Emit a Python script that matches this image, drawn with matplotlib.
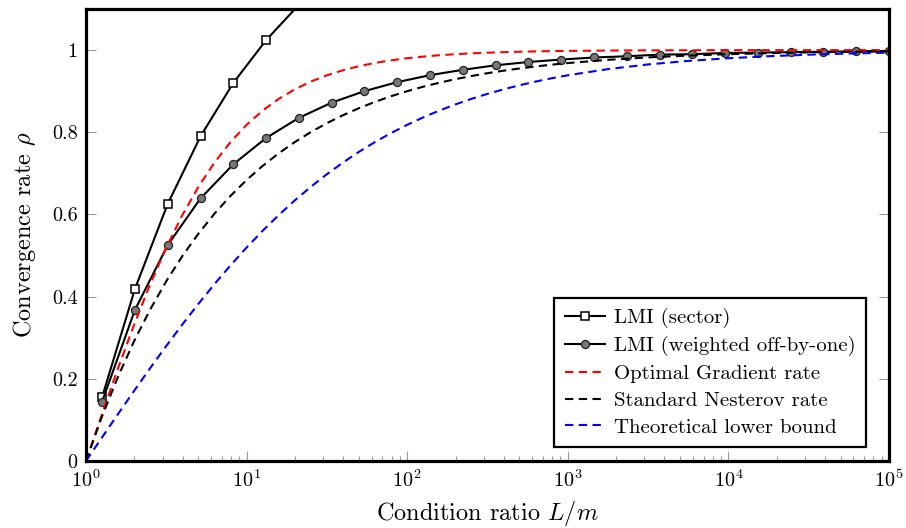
import numpy as np
import matplotlib
matplotlib.use("Agg")
import matplotlib.pyplot as plt
from matplotlib.ticker import FixedLocator, FixedFormatter, LogLocator, NullFormatter

plt.rcParams['font.family'] = ['cmr10', 'DejaVu Serif']
plt.rcParams['mathtext.fontset'] = 'cm'
plt.rcParams['axes.formatter.use_mathtext'] = True

# ---- data ----
# marker grid (exponents of condition ratio)
marker_exp = [0.1, 0.304, 0.508, 0.713, 0.917, 1.121, 1.325, 1.529, 1.733, 1.938,
              2.142, 2.346, 2.550, 2.754, 2.958, 3.163, 3.367, 3.571, 3.775, 3.979,
              4.183, 4.388, 4.592, 4.796, 5.0]
lmi_sector = [0.155, 0.418, 0.625, 0.790, 0.920, 1.024, 1.11]
lmi_weighted = [0.144, 0.367, 0.525, 0.639, 0.722, 0.786, 0.835, 0.872, 0.900, 0.922,
                0.939, 0.952, 0.963, 0.971, 0.977, 0.982, 0.985, 0.989, 0.990, 0.993,
                0.994, 0.995, 0.996, 0.997, 0.998]

curve_exp = [0.0, 0.1, 0.2, 0.3, 0.4, 0.5, 0.6, 0.7, 0.8, 0.9,
             1.0, 1.1, 1.2, 1.3, 1.4, 1.5, 1.6, 1.7, 1.8, 1.9,
             2.0, 2.1, 2.2, 2.3, 2.4, 2.5, 2.6, 2.7, 2.8, 2.9,
             3.0, 3.25, 3.5, 3.75, 4.0, 4.25, 4.5, 4.75, 5.0]
optimal_gradient = [0.0, 0.1146, 0.2263, 0.3323, 0.4305, 0.5195, 0.5985, 0.6673, 0.7264, 0.7764,
                    0.8182, 0.8528, 0.8813, 0.9045, 0.9234, 0.9387, 0.9510, 0.9609, 0.9688, 0.9751,
                    0.9802, 0.9842, 0.9875, 0.9900, 0.9921, 0.9937, 0.9950, 0.9960, 0.9968, 0.9975,
                    0.9980, 0.9989, 0.9994, 0.9996, 0.9998, 0.9999, 0.9999, 1.0000, 1.0000]
nesterov = [0.0, 0.1087, 0.2057, 0.2921, 0.3690, 0.4377, 0.4988, 0.5533, 0.6019, 0.6452,
            0.6838, 0.7182, 0.7488, 0.7761, 0.8005, 0.8222, 0.8415, 0.8587, 0.8741, 0.8878,
            0.9000, 0.9109, 0.9206, 0.9292, 0.9369, 0.9438, 0.9499, 0.9553, 0.9602, 0.9645,
            0.9684, 0.9763, 0.9822, 0.9867, 0.9900, 0.9925, 0.9944, 0.9958, 0.9968]
lower_bound = [0.0, 0.0575, 0.1146, 0.1710, 0.2263, 0.2801, 0.3323, 0.3825, 0.4305, 0.4762,
               0.5195, 0.5603, 0.5985, 0.6342, 0.6673, 0.6980, 0.7264, 0.7525, 0.7764, 0.7982,
               0.8182, 0.8363, 0.8528, 0.8678, 0.8813, 0.8935, 0.9045, 0.9145, 0.9234, 0.9315,
               0.9387, 0.9537, 0.9651, 0.9737, 0.9802, 0.9851, 0.9888, 0.9916, 0.9937]

y_ticks = [0, 0.2, 0.4, 0.6, 0.8, 1.0]
y_tick_labels = ['0', '0.2', '0.4', '0.6', '0.8', '1']
x_ticks = [1e0, 1e1, 1e2, 1e3, 1e4, 1e5]
x_tick_labels = [r'$10^{0}$', r'$10^{1}$', r'$10^{2}$', r'$10^{3}$', r'$10^{4}$', r'$10^{5}$']

# ---- plot ----
fig = plt.figure(figsize=(9.06, 5.28), dpi=100)
ax = fig.add_axes([86/906, 1-461/528, 803/906, 452/528])

mk = 10 ** np.array(marker_exp)
cx = 10 ** np.array(curve_exp)

ax.plot(mk[:len(lmi_sector)], lmi_sector, color='black', lw=1.5, marker='s',
        ms=6, mfc='white', mec='black', mew=1.1, label='LMI (sector)')
ax.plot(mk, lmi_weighted, color='black', lw=1.5, marker='o',
        ms=5.8, mfc='#777777', mec='#222222', mew=0.9, label='LMI (weighted off-by-one)')
dash = (4, 2.6)
ax.plot(cx, optimal_gradient, color='#ff0000', lw=1.5, ls=(0, dash), label='Optimal Gradient rate')
ax.plot(cx, nesterov, color='black', lw=1.5, ls=(0, dash), label='Standard Nesterov rate')
ax.plot(cx, lower_bound, color='#0000ff', lw=1.5, ls=(0, dash), label='Theoretical lower bound')

ax.set_xscale('log')
ax.set_xlim(1, 1e5)
ax.set_ylim(0, 1.1)

ax.xaxis.set_major_locator(FixedLocator(x_ticks))
ax.xaxis.set_major_formatter(FixedFormatter(x_tick_labels))
ax.xaxis.set_minor_locator(LogLocator(base=10, subs=np.arange(2, 10), numticks=20))
ax.xaxis.set_minor_formatter(NullFormatter())
ax.yaxis.set_major_locator(FixedLocator(y_ticks))
ax.yaxis.set_major_formatter(FixedFormatter(y_tick_labels))

ax.tick_params(axis='both', which='both', direction='in', color='#999999', width=0.8)
ax.tick_params(axis='both', which='major', length=7, labelsize=14.5, pad=6)
ax.tick_params(axis='both', which='minor', length=3.5)
ax.tick_params(axis='y', which='both', right=True, left=True)
ax.tick_params(axis='x', which='both', top=False, bottom=True)

for sp in ax.spines.values():
    sp.set_linewidth(2.3)
    sp.set_color('black')

ax.set_xlabel(r'Condition ratio $L/m$', fontsize=17.5, labelpad=6)
ax.set_ylabel(r'Convergence rate $\rho$', fontsize=17.5, labelpad=10)

leg = ax.legend(loc='lower right', bbox_to_anchor=(0.971, 0.031), borderaxespad=0,
                fontsize=15, numpoints=1, handlelength=1.95, handletextpad=0.4,
                labelspacing=0.39, borderpad=0.5, fancybox=False, framealpha=1,
                edgecolor='black')
leg.get_frame().set_linewidth(1.6)

fig.savefig('out.png', dpi=100)
